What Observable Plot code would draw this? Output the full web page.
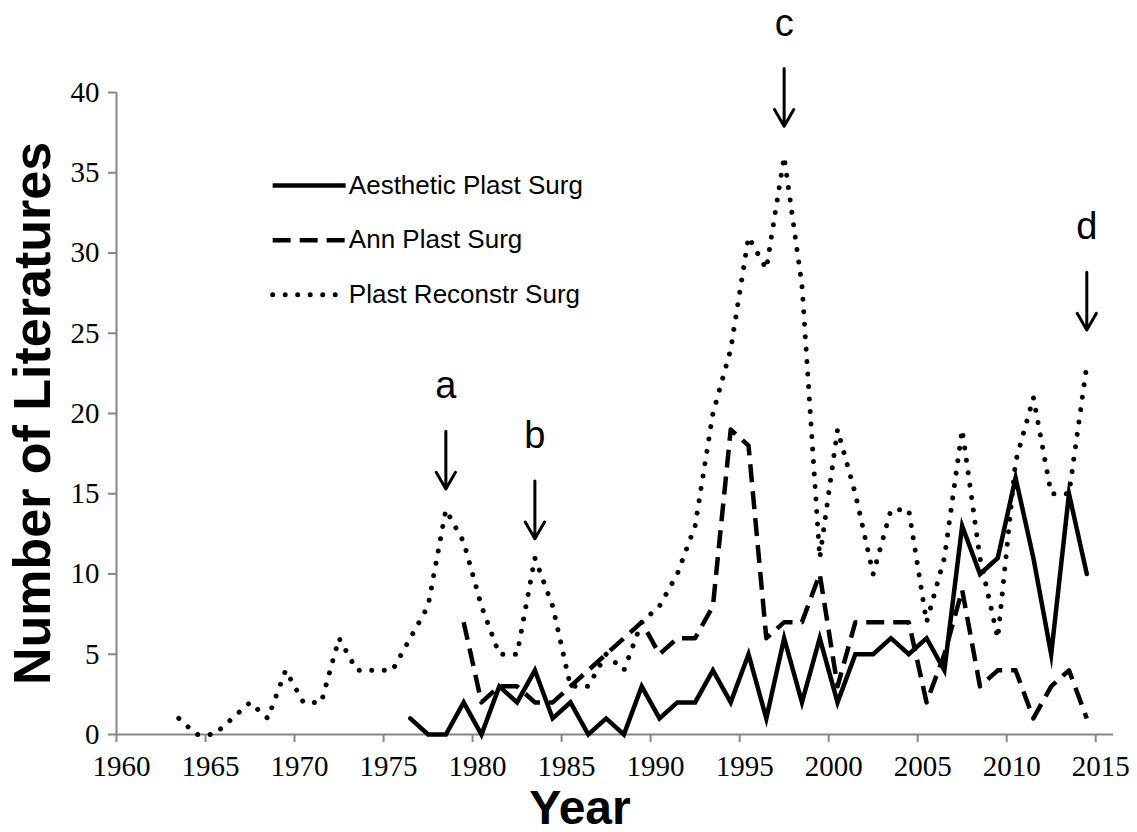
<!DOCTYPE html>
<html><head><meta charset="utf-8">
<script src="https://cdn.jsdelivr.net/npm/d3@7"></script>
<script src="https://cdn.jsdelivr.net/npm/@observablehq/plot@0.6"></script>
<style>
body{margin:0;background:#fff}
</style>
</head><body><div id="chart"></div>
<script>
// ---- data ----
const years = [1963,1964,1965,1966,1967,1968,1969,1970,1971,1972,1973,1974,1975,1976,1977,1978,1979,1980,1981,1982,1983,1984,1985,1986,1987,1988,1989,1990,1991,1992,1993,1994,1995,1996,1997,1998,1999,2000,2001,2002,2003,2004,2005,2006,2007,2008,2009,2010,2011,2012,2013,2014];
const plastReconstr = [1,0,0,1,2,1,4,2,2,6, 4,4,4,6,8,14,12,8,5,5, 11,8,3,3,5,4,7,8,10,13, 20,24,31,29,36,28,11,19,15,10, 14,14,7,11,19,11,6,17,21,15, 15,23];
const annPlast = [null,null,null,null,null,null,null,null,null,null,null,null,null,null,null,null,
  7,2,3,3,2,2,3,4,5,6, 7,5,6,6,8,19,18,6,7,7, 10,3,7,7,7,7,2,5,9,3, 4,4,1,3,4,1];
const aestheticPlast = [null,null,null,null,null,null,null,null,null,null,null,null,null,
  1,0,0,2,0,3,2,4,1,2, 0,1,0,3,1,2,2,4,2,5, 1,6,2,6,2,5,5,6,5,6, 4,13,10,11,16,11,5,15,10];
const seriesNames = ["Aesthetic Plast Surg", "Ann Plast Surg", "Plast Reconstr Surg"];
const xTicks = [1960,1965,1970,1975,1980,1985,1990,1995,2000,2005,2010,2015];
const yTicks = [0,5,10,15,20,25,30,35,40];
const noteLabels = ["a","b","c","d"];
const noteYears = [1978,1983,1997,2014];
const noteTips = [15.3,12.2,37.9,25.2];

// ---- layout ----
const xDomain = [1960, 2016];
const legendX1 = 1968.8, legendX2 = 1972.9, legendTextX = 1973.05;
const legendY = [34.2, 30.8, 27.4];
const arrowLen = 3.6;
const sans = "'Liberation Sans', Arial, sans-serif";
const serif = "'Liberation Serif', 'Times New Roman', serif";
const axisGray = "#868686";
const tickFont = 29;

const rows = years.map((year, i) => ({year, aesthetic: aestheticPlast[i], ann: annPlast[i], plast: plastReconstr[i]}));
const pos = d => d.year + 0.5;

const styles = [
  {stroke: "black", strokeWidth: 4.5, strokeLinejoin: "miter", strokeMiterlimit: 10},
  {stroke: "black", strokeWidth: 4.5, strokeDasharray: "18 9", strokeLinecap: "butt"},
  {stroke: "black", strokeWidth: 5, strokeDasharray: "0.01 12.5", strokeLinecap: "round"}
];
const keys = ["aesthetic", "ann", "plast"];

const legendRows = seriesNames.map((name, i) => ({name, y: legendY[i], i}));
const notes = noteLabels.map((label, i) => ({label, x: noteYears[i] + 0.5, tip: noteTips[i]}));

const plot = Plot.plot({
  width: 1137, height: 832,
  marginLeft: 116, marginRight: 24, marginTop: 92, marginBottom: 98,
  x: {domain: xDomain},
  y: {domain: [0, 40]},
  style: {fontFamily: serif, color: "black", background: "white", overflow: "visible"},
  marks: [
    Plot.axisY({ticks: yTicks, tickSize: 8, stroke: axisGray, strokeWidth: 2, label: null, tickFormat: () => ""}),
    Plot.axisX({ticks: xTicks, tickSize: 8, stroke: axisGray, strokeWidth: 2, label: null, tickFormat: () => ""}),
    Plot.text(yTicks, {x: xDomain[0], y: d => d, text: d => String(d), dx: -17, textAnchor: "end", fontFamily: serif, fontSize: tickFont, fill: "black"}),
    Plot.text(xTicks, {x: d => d, y: 0, text: d => String(d), dx: 5, dy: 32, fontFamily: serif, fontSize: tickFont, fill: "black"}),
    Plot.ruleX([xDomain[0]], {stroke: axisGray, strokeWidth: 2}),
    Plot.ruleY([0], {stroke: axisGray, strokeWidth: 2}),
    ...keys.map((k, i) => Plot.line(rows.filter(d => d[k] != null), {x: pos, y: k, ...styles[i]})),
    // legend
    ...legendRows.map(r => Plot.ruleY([r], {x1: legendX1, x2: legendX2, y: "y", ...styles[r.i]})),
    Plot.text(legendRows, {x: legendTextX, y: "y", text: "name", textAnchor: "start", fontFamily: sans, fontSize: 26}),
    // annotations
    Plot.arrow(notes, {x: "x", y1: d => d.tip + arrowLen, y2: "tip", stroke: "black", strokeWidth: 3, headLength: 11, headAngle: 60}),
    Plot.text(notes, {x: "x", y: d => d.tip + arrowLen + 2.8, text: "label", fontFamily: sans, fontSize: 38}),
    // axis titles
    Plot.text(["Year"], {frameAnchor: "bottom", textAnchor: "middle", lineAnchor: "middle", dx: -35, dy: 74, fontFamily: sans, fontWeight: "bold", fontSize: 48}),
    Plot.text(["Number of Literatures"], {frameAnchor: "left", textAnchor: "middle", lineAnchor: "middle", dx: -83, rotate: -90, fontFamily: sans, fontWeight: "bold", fontSize: 52})
  ]
});
document.getElementById("chart").appendChild(plot);
</script>
</body></html>
